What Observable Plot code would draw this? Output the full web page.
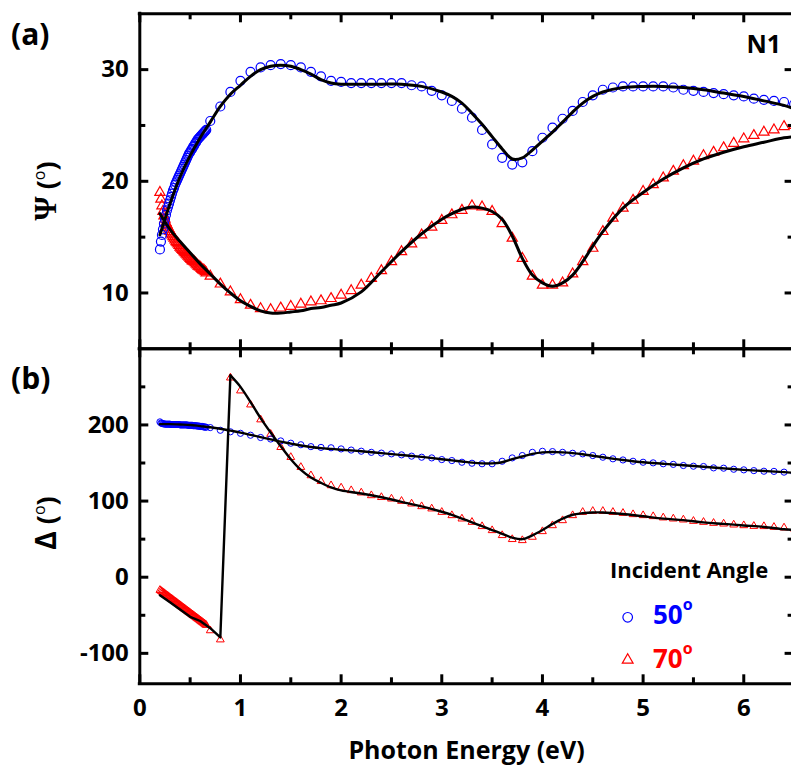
<!DOCTYPE html>
<html>
<head>
<meta charset="utf-8">
<script src="https://cdn.jsdelivr.net/npm/d3@7"></script>
<script src="https://cdn.jsdelivr.net/npm/@observablehq/plot@0.6"></script>
<style>
  body { margin: 0; background: #fff; }
  #chart { position: relative; width: 791px; height: 769px; overflow: hidden; background: #fff; }
  #chart > svg { position: absolute; left: 0; }
</style>
</head>
<body>
<div id="chart"></div>
<script>
// ---------- data ----------
const energyDense = [0.20,0.21,0.22,0.23,0.24,0.25,0.26,0.27,0.28,0.29,0.30,0.31,0.32,0.33,0.34,0.35,0.36,0.37,0.38,0.39,0.40,0.41,0.42,0.43,0.44,0.45,0.46,0.47,0.48,0.49,0.50,0.51,0.52,0.53,0.54,0.55,0.56,0.57,0.58,0.59,0.60,0.61,0.62,0.63,0.64,0.65,0.66];
const psi50Dense = [13.9,14.6,15.2,15.7,16.2,16.6,17.0,17.4,17.7,18.0,18.3,18.6,18.9,19.2,19.4,19.7,19.9,20.1,20.3,20.5,20.7,20.9,21.1,21.3,21.5,21.7,21.9,22.1,22.3,22.5,22.6,22.8,22.9,23.1,23.2,23.4,23.5,23.7,23.8,23.9,24.0,24.1,24.2,24.3,24.4,24.5,24.6];
const psi70Dense = [19.0,18.4,17.8,17.3,16.9,16.6,16.3,16.1,15.9,15.7,15.5,15.35,15.2,15.05,14.9,14.75,14.6,14.5,14.4,14.25,14.1,14.0,13.9,13.8,13.7,13.6,13.5,13.4,13.3,13.2,13.1,13.0,12.9,12.85,12.8,12.7,12.6,12.5,12.4,12.35,12.3,12.2,12.1,12.05,12.0,11.9,11.8];
const delta50Dense = [204,202.5,202,201.5,201.5,201,201,201,201,201,201,200.5,200.5,200.5,200.5,200.5,200.5,200.5,200.5,200.5,200,200,200,200,200,200,200,200,199.5,199.5,199.5,199.5,199.5,199,199,199,199,198.5,198.5,198.5,198,198,198,197.5,197.5,197,197];
const delta70Dense = [-17,-18,-19,-20,-21,-22,-23,-24,-25,-26,-27,-28,-29,-30,-31,-32,-33,-34,-35,-36,-37,-38,-39,-40,-41,-42,-43,-44,-45,-46,-47,-48,-49,-50,-51,-52,-53,-54,-55,-56,-57,-58,-59,-60,-61,-62,-63];

const energy = [0.7,0.8,0.9,1.0,1.1,1.2,1.3,1.4,1.5,1.6,1.7,1.8,1.9,2.0,2.1,2.2,2.3,2.4,2.5,2.6,2.7,2.8,2.9,3.0,3.1,3.2,3.3,3.4,3.5,3.6,3.7,3.8,3.9,4.0,4.1,4.2,4.3,4.4,4.5,4.6,4.7,4.8,4.9,5.0,5.1,5.2,5.3,5.4,5.5,5.6,5.7,5.8,5.9,6.0,6.1,6.2,6.3,6.4,6.5];
const psi50 = [25.4,26.7,28.0,
  29.0,29.8,30.2,30.4,30.5,30.4,30.2,29.8,29.4,29.0,
  28.9,28.8,28.8,28.8,28.8,28.8,28.8,28.6,28.5,28.1,
  27.7,27.2,26.5,25.7,24.6,23.3,22.1,21.5,21.7,22.7,
  23.9,24.8,25.6,26.3,27.1,27.7,28.2,28.4,28.5,28.5,
  28.5,28.5,28.5,28.4,28.2,28.1,28.0,27.9,27.8,27.7,
  27.6,27.4,27.3,27.2,27.1,26.9];
const psi70 = [11.5,10.8,10.1,
  9.4,8.9,8.6,8.5,8.65,8.8,9.0,9.2,9.3,9.5,
  9.8,10.2,10.7,11.3,12.0,12.8,13.7,14.4,15.2,15.9,
  16.5,17.0,17.4,17.8,17.7,17.3,16.2,14.9,13.1,11.5,
  10.7,10.7,10.9,11.7,12.8,14.0,15.5,16.7,17.6,18.3,
  19.1,19.7,20.3,20.9,21.4,21.8,22.3,22.6,23.0,23.4,
  23.8,24.1,24.4,24.6,24.9,25.0];
const delta50 = [196.5,193,191,
  189,186.5,183.5,181.5,179,176,174,171.5,170.5,170,
  168.5,167,165.5,164,163,162,160.7,159,157.6,156.7,
  154.5,153.2,151,149.7,149,149,152.3,156.7,159.8,164,
  165.4,165,164,162.8,162,159.8,157.6,155.5,154,152.3,
  151,150.2,149,148.2,146.7,145.8,145.4,143.6,143.2,141.8,
  141,140,139.2,139,138,136.6];
const delta70 = [-70,-82,262,
  245,226.6,207,188,170.7,157.6,144.5,133.6,126,120.5,
  117.5,114,111,107.4,105,103,100,96.5,93,90,
  85.5,81.2,76.8,72.4,66.8,61.5,55,49.8,48.4,52.8,
  60.2,68,74.6,81.2,85.5,86.8,86.8,85.5,84.2,82.5,
  81.2,79.9,78.2,76.8,75.5,73.7,72.4,71.1,70.2,68.9,
  68,67.1,66.8,65.8,65,63.7];

const fitEnergy = [0.2,0.3,0.4,0.5,0.6,0.7,0.8,0.9,1.0,1.1,1.2,1.3,1.4,1.5,1.6,1.7,1.8,1.9,2.0,2.2,2.4,2.6,2.8,3.0,3.1,3.2,3.3,3.4,3.5,3.6,3.7,3.8,3.9,4.0,4.1,4.2,4.3,4.4,4.5,4.6,4.8,5.0,5.2,5.4,5.6,5.8,6.0,6.2,6.4,6.5];
const psi50Fit = [15.2,18.0,20.4,22.3,23.9,25.3,26.7,27.8,
  28.6,29.4,30.0,30.3,30.4,30.3,30.0,29.6,29.1,28.8,
  28.7,28.7,28.7,28.7,28.5,
  28.0,27.6,27.0,26.1,25.1,24.0,22.9,22.0,22.1,22.8,
  23.6,24.4,25.3,26.2,27.0,27.6,28.0,
  28.4,28.5,28.5,28.4,28.2,27.9,27.6,27.2,26.8,26.5];
const psi70Fit = [17.1,15.7,14.6,13.6,12.6,11.7,10.8,10.0,
  9.3,8.8,8.4,8.2,8.2,8.3,8.4,8.6,8.7,8.9,
  9.1,10.1,11.9,13.7,15.3,
  16.6,17.1,17.5,17.7,17.6,17.3,16.6,15.1,13.1,11.6,
  10.9,10.6,10.9,11.6,12.8,14.2,15.5,
  17.6,19.0,20.2,21.2,22.0,22.6,23.1,23.5,23.9,24.0];
const delta50Fit = [201,201,200.5,200,198.5,197,195,192.5,
  190,187,184,181,178,175.5,173,171,169.5,168.5,
  167.5,165.5,163,160.5,158,
  155,153.5,152,150.5,149.5,149.5,151,155,158.5,162,
  164,164.5,164,163,161.5,159.5,157.5,
  154,151,149,147,145,143,141,139.5,138,137];
const delta70Fit = [-23.6,-33,-42.5,-52,-57.5,-67,-79,265,
  250,230,209,190,172,155,141,131,124,118,
  114,110,105,99,93,
  86,82,77,72,67,62,57,52,50,55,
  62,70,77,82,84,85,85,
  83,80,77,75,72,70,68,66,63,62];

const xMajorTicks = [0,1,2,3,4,5,6];
const xMinorTicks = [0.5,1.5,2.5,3.5,4.5,5.5];
const psiMajorTicks = [10,20,30];
const psiMinorTicks = [15,25];
const deltaMajorTicks = [-100,0,100,200];
const deltaMinorTicks = [-50,50,150,250];

const panelLabels = ["(a)", "(b)"];
const sampleName = "N1";
const xTitle = "Photon Energy (eV)";
const legendTitle = "Incident Angle";
const angleLabels = ["50", "70"];
const angleColors = ["#0000ff", "#ff0000"];

// ---------- helpers ----------
const rows = (xs, ys) => xs.map((x, i) => ({x, y: ys[i]}));
const W = 791;
const xLeft = 139.3, xRight = 793.6;
const xDomain = [0, 6.5];
const baseStyle = {fontFamily: '"Open Sans", sans-serif', fontSize: "24px", fontWeight: "bold", background: "transparent", color: "#000"};

// frame lines + inward ticks (tick lengths in pixels, converted to each scale's data units)
function frameMarks(yLo, yHi, frameH, yMaj, yMin) {
  const ky = (yHi - yLo) / frameH;
  const kx = (xDomain[1] - xDomain[0]) / (xRight - xLeft);
  const st = {stroke: "#000", strokeWidth: 3};
  const MAJ = 9, MIN = 6;
  return [
    Plot.ruleX(xMajorTicks, {x: d => d, y1: () => yLo, y2: () => yLo + MAJ * ky, ...st}),
    Plot.ruleX(xMajorTicks, {x: d => d, y1: () => yHi - MAJ * ky, y2: () => yHi, ...st}),
    Plot.ruleX(xMinorTicks, {x: d => d, y1: () => yLo, y2: () => yLo + MIN * ky, ...st}),
    Plot.ruleX(xMinorTicks, {x: d => d, y1: () => yHi - MIN * ky, y2: () => yHi, ...st}),
    Plot.ruleY(yMaj, {y: d => d, x1: () => xDomain[0], x2: () => xDomain[0] + MAJ * kx, ...st}),
    Plot.ruleY(yMin, {y: d => d, x1: () => xDomain[0], x2: () => xDomain[0] + MIN * kx, ...st}),
    Plot.ruleY(yMaj, {y: d => d, x1: () => xDomain[1] - MAJ * kx, x2: () => xDomain[1], ...st}),
    Plot.ruleY(yMin, {y: d => d, x1: () => xDomain[1] - MIN * kx, x2: () => xDomain[1], ...st}),
    Plot.ruleX([xDomain[0]], {strokeWidth: 3, strokeLinecap: "square"}),
    Plot.ruleY([yLo, yHi], {strokeWidth: 3, strokeLinecap: "square"})
  ];
}

// ---------- panel (a): Psi ----------
const hA = 352, topA = 13.3, botA = 348.3;
const psiDomain = [5, 35];
const panelA = Plot.plot({
  width: W, height: hA,
  marginTop: topA, marginBottom: hA - botA, marginLeft: xLeft, marginRight: 0,
  x: {domain: xDomain, range: [xLeft, xRight], label: null, axis: null},
  y: {domain: psiDomain, label: null, axis: null},
  style: baseStyle,
  marks: [
    Plot.dot(rows(energyDense, psi70Dense).concat(rows(energy, psi70)), {x: "x", y: "y", symbol: "triangle", r: 3.8, stroke: "#ff0000", strokeWidth: 1.2, fill: "none"}),
    Plot.dot(rows(energyDense, psi50Dense).concat(rows(energy, psi50)), {x: "x", y: "y", symbol: "circle", r: 4.5, stroke: "#0000ff", strokeWidth: 1.2, fill: "none"}),
    Plot.line(rows(fitEnergy, psi50Fit), {x: "x", y: "y", stroke: "#000", strokeWidth: 3, curve: "catmull-rom"}),
    Plot.line(rows(fitEnergy, psi70Fit), {x: "x", y: "y", stroke: "#000", strokeWidth: 3, curve: "catmull-rom"}),
    ...frameMarks(psiDomain[0], psiDomain[1], botA - topA, psiMajorTicks, psiMinorTicks),
    Plot.axisY({anchor: "left", ticks: psiMajorTicks, tickSize: 0, tickPadding: 11, label: null, tickFormat: d => String(d)})
  ]
});
panelA.style.top = "0px";

// ---------- panel (b): Delta ----------
const offB = 340, hB = 429, topB = 348.3 - offB, botB = 683.3 - offB;
const deltaDomain = [-140, 300];
const d70 = rows(fitEnergy, delta70Fit);
const panelB = Plot.plot({
  width: W, height: hB,
  marginTop: topB, marginBottom: hB - botB, marginLeft: xLeft, marginRight: 0,
  x: {domain: xDomain, range: [xLeft, xRight], label: null, axis: null},
  y: {domain: deltaDomain, label: null, axis: null},
  style: baseStyle,
  marks: [
    Plot.dot(rows(energyDense, delta70Dense).concat(rows(energy, delta70)), {x: "x", y: "y", symbol: "triangle", r: 2.9, stroke: "#ff0000", strokeWidth: 1, fill: "none"}),
    Plot.dot(rows(energyDense, delta50Dense).concat(rows(energy, delta50)), {x: "x", y: "y", symbol: "circle", r: 3.1, stroke: "#0000ff", strokeWidth: 1, fill: "none"}),
    Plot.line(rows(fitEnergy, delta50Fit), {x: "x", y: "y", stroke: "#000", strokeWidth: 2.4, curve: "catmull-rom"}),
    Plot.line(d70.filter(d => d.x <= 0.9), {x: "x", y: "y", stroke: "#000", strokeWidth: 2.4, curve: "linear"}),
    Plot.line(d70.filter(d => d.x >= 0.9), {x: "x", y: "y", stroke: "#000", strokeWidth: 2.4, curve: "catmull-rom"}),
    ...frameMarks(deltaDomain[0], deltaDomain[1], botB - topB, deltaMajorTicks, deltaMinorTicks),
    Plot.axisY({anchor: "left", ticks: deltaMajorTicks, tickSize: 0, tickPadding: 11, label: null, tickFormat: d => String(d)}),
    Plot.axisX({anchor: "bottom", ticks: xMajorTicks, tickSize: 0, tickPadding: 15, label: null, tickFormat: d => String(d)})
  ]
});
panelB.style.top = offB + "px";

const chart = document.getElementById("chart");
chart.appendChild(panelB);
chart.appendChild(panelA);

// ---------- annotations overlay ----------
const ov = d3.create("svg")
  .attr("width", W).attr("height", 769)
  .style("position", "absolute").style("left", "0px").style("top", "0px")
  .style("pointer-events", "none")
  .attr("font-family", '"Open Sans", sans-serif').attr("font-weight", "bold");

ov.append("text").attr("x", 11).attr("y", 45).attr("font-size", 30).text(panelLabels[0]);
ov.append("text").attr("x", 11).attr("y", 389).attr("font-size", 30).text(panelLabels[1]);
ov.append("text").attr("x", 781).attr("y", 53).attr("font-size", 25).attr("text-anchor", "end").text(sampleName);
ov.append("text").attr("x", 466.5).attr("y", 759).attr("font-size", 25).attr("text-anchor", "middle").text(xTitle);

// y-axis titles (rotated)
function yTitle(cy, sym, symFont, symWeight, symSize) {
  const t = ov.append("text")
    .attr("transform", `translate(56,${cy}) rotate(-90)`)
    .attr("text-anchor", "middle").attr("font-size", 27);
  t.append("tspan").attr("font-family", symFont).attr("font-weight", symWeight).attr("font-size", symSize).text(sym);
  t.append("tspan").text(" (");
  t.append("tspan").attr("font-size", 16).attr("dy", -11).attr("font-weight", "normal").text("o");
  t.append("tspan").attr("dy", 11).text(")");
}
yTitle(191, "Ψ", '"Liberation Serif", serif', "bold", 31);
yTitle(523, "Δ", '"Open Sans", sans-serif', "bold", 28);

// legend
ov.append("text").attr("x", 610).attr("y", 578).attr("font-size", 22).text(legendTitle);
const legendY = [624, 668];
const legendSymbols = [d3.symbolCircle, d3.symbolTriangle];
const legendSymY = [617.3, 660];
angleLabels.forEach((lab, i) => {
  ov.append("path")
    .attr("d", d3.symbol(legendSymbols[i], i === 0 ? Math.PI * 4.8 * 4.8 : Math.PI * 4 * 4)())
    .attr("transform", `translate(627.7,${legendSymY[i]})`)
    .attr("fill", "none").attr("stroke", angleColors[i]).attr("stroke-width", 1.2);
  const t = ov.append("text").attr("x", 653).attr("y", legendY[i]).attr("font-size", 26).attr("fill", angleColors[i]);
  t.append("tspan").text(lab);
  t.append("tspan").attr("font-size", 16).attr("dy", -14).text("o");
});

chart.appendChild(ov.node());
</script>
</body>
</html>
